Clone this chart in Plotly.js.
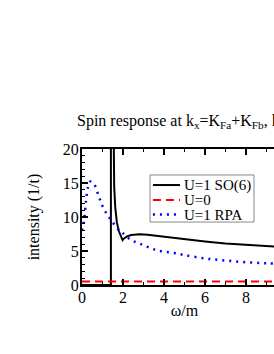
<!DOCTYPE html>
<html><head><meta charset="utf-8">
<script src="https://cdn.plot.ly/plotly-3.0.1.min.js"></script>
<style>html,body{margin:0;padding:0;overflow:hidden;background:#fff;width:274px;height:354px}</style>
</head><body><div id="plot"></div>
<script>
// U=1 SO(6): delta peak then continuum
const so6_peak_x = [0, 1.41, 1.41];
const so6_peak_y = [0, 0, 30];
const so6_x = [1.52, 1.54, 1.57, 1.62, 1.7, 1.8, 1.9, 1.98, 2.05, 2.2, 2.4, 2.8, 3.2, 4, 5, 6, 7, 8, 9, 10];
const so6_y = [30, 18, 14.5, 11.5, 9.2, 7.9, 7.1, 6.6, 6.85, 7.15, 7.35, 7.45, 7.4, 7.1, 6.75, 6.4, 6.1, 5.9, 5.7, 5.55];
// U=0
const u0_x = [0, 10];
const u0_y = [0.5, 0.5];
// U=1 RPA
const rpa_x = [0, 0.1, 0.2, 0.3, 0.4, 0.5, 0.6, 0.8, 1.0, 1.2, 1.4, 1.6, 1.8, 2.0, 2.4, 2.8, 3.2, 3.6, 4, 4.5, 5, 6, 7, 8, 9, 10];
const rpa_y = [8, 9.5, 12.5, 14.5, 15.2, 15.1, 14.8, 13.2, 11.6, 10.5, 9.6, 8.8, 8.1, 7.6, 6.6, 6.1, 5.6, 5.15, 4.9, 4.7, 4.4, 3.9, 3.6, 3.35, 3.2, 3.1];

const names = ["U=1 SO(6)", "U=0", "U=1 RPA"];
const xTickVals = [0, 2, 4, 6, 8];
const yTickVals = [0, 5, 10, 15, 20];
const titleText = "Spin response at k<sub>x</sub>=K<sub>Fa</sub>+K<sub>Fb</sub>, k<sub>y</sub>=0";

const so6X = so6_peak_x.concat([null], so6_x);
const so6Y = so6_peak_y.concat([null], so6_y);

const serif = "Liberation Serif";
const font = {family: serif, size: 16, color: "#000"};
const legFont = {family: serif, size: 15, color: "#000"};
const colors = ["#000000", "#ff0000", "#0000ff"];
const dashes = ["solid", "8px,5px", "2px,5px"];
const widths = [2, 2, 2.5];

const traces = [
  {x: so6X, y: so6Y, mode: "lines", name: names[0], line: {color: colors[0], width: widths[0]}, connectgaps: false},
  {x: u0_x, y: u0_y, mode: "lines", name: names[1], line: {color: colors[1], width: widths[1], dash: dashes[1]}},
  {x: rpa_x, y: rpa_y, mode: "lines", name: names[2], line: {color: colors[2], width: widths[2], dash: dashes[2], shape: "spline"}},
  {x: [], y: [], xaxis: "x2", yaxis: "y2", hoverinfo: "skip", showlegend: false}
];
const axisCommon = {
  showline: true, linecolor: "#000", linewidth: 2, mirror: "allticks",
  ticks: "inside", ticklen: 6, tickwidth: 1.5, tickcolor: "#000",
  showgrid: false, zeroline: false, tickfont: font, automargin: false
};
const minorCommon = {
  showline: true, linecolor: "#000", linewidth: 2, mirror: "allticks",
  ticks: "inside", ticklen: 3, tickwidth: 1, tickcolor: "#000", dtick: 1, tick0: 0,
  showgrid: false, zeroline: false, showticklabels: false, automargin: false
};

// legend drawn in paper coordinates
const legBox = {x0: 0.332, x1: 0.839, y0: 0.463, y1: 0.809};
const rowY = [0.735, 0.625, 0.518];
const shapes = [{type: "rect", xref: "paper", yref: "paper", x0: legBox.x0, x1: legBox.x1, y0: legBox.y0, y1: legBox.y1,
                 line: {color: "#888", width: 1}, fillcolor: "#fff", layer: "above"}];
const annotations = [{text: titleText, xref: "paper", yref: "paper", x: -0.034, y: 1.2,
                 xanchor: "left", yanchor: "middle", showarrow: false, font: font}];
names.forEach((n, i) => {
  shapes.push({type: "line", xref: "paper", yref: "paper", x0: 0.346, x1: 0.478, y0: rowY[i], y1: rowY[i],
               line: {color: colors[i], width: widths[i], dash: dashes[i]}, layer: "above"});
  annotations.push({text: n, xref: "paper", yref: "paper", x: 0.49, y: rowY[i], xanchor: "left", yanchor: "middle",
                    showarrow: false, font: legFont});
});

const layout = {
  width: 300, height: 354,
  margin: {l: 82, r: 13, t: 149, b: 69},
  paper_bgcolor: "#fff", plot_bgcolor: "#fff",
  font: font,
  showlegend: false,
  xaxis: Object.assign({}, axisCommon, {range: [0, 10], tickvals: xTickVals, ticklabelstandoff: -3,
           title: {text: "ω/m", font: font, standoff: 0}}),
  yaxis: Object.assign({}, axisCommon, {range: [0, 20], tickvals: yTickVals, ticklabelstandoff: -2,
           title: {text: "intensity (1/t)", font: font}}),
  xaxis2: Object.assign({}, minorCommon, {range: [0, 10], overlaying: "x", anchor: "y2"}),
  yaxis2: Object.assign({}, minorCommon, {range: [0, 20], overlaying: "y", anchor: "x2"}),
  shapes: shapes,
  annotations: annotations
};
Plotly.newPlot("plot", traces, layout, {displayModeBar: false, staticPlot: true});
</script></body></html>
